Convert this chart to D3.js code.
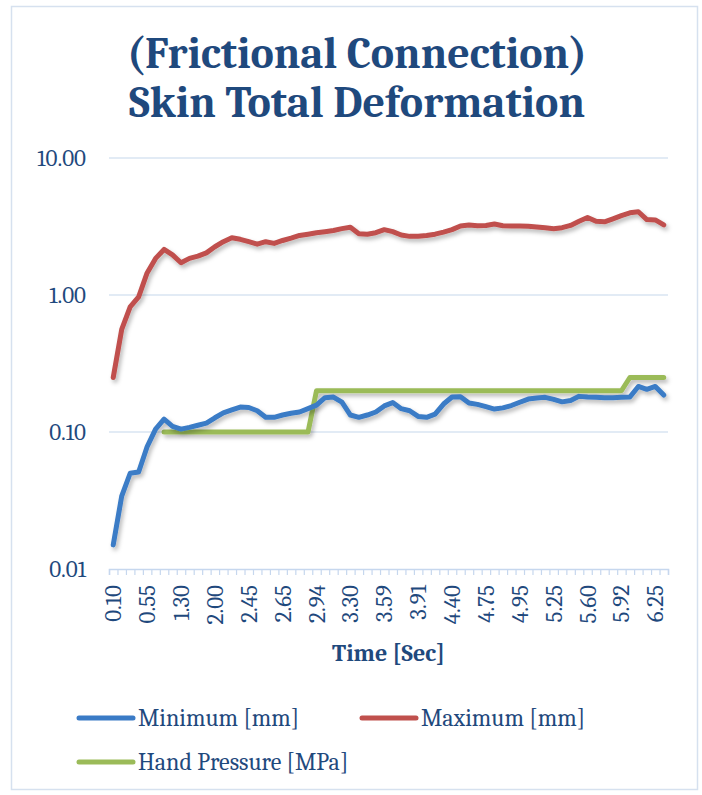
<!DOCTYPE html>
<html>
<head>
<meta charset="utf-8">
<script src="https://cdn.jsdelivr.net/npm/d3@7"></script>
<style>
  body { margin: 0; background: #fff; }
  text { font-family: Cambria, 'Liberation Serif', serif; fill: #1f497d; }
  .title { font-weight: bold; font-size: 44px; }
  .tick text { font-size: 23px; }
  .label { font-weight: bold; font-size: 24px; }
  .legend text { font-size: 24px; }
</style>
</head>
<body>
<div id="container"></div>
<script>
    // time steps (categories) - only every 4th one is labelled on the axis
    const times = [
      0.10, 0.20, 0.30, 0.43, 0.55, 0.70, 0.90, 1.10, 1.30, 1.48, 1.65, 1.83,
      2.00, 2.12, 2.23, 2.34, 2.45, 2.50, 2.55, 2.60, 2.65, 2.72, 2.80, 2.87,
      2.94, 3.03, 3.12, 3.21, 3.30, 3.37, 3.44, 3.52, 3.59, 3.67, 3.75, 3.83,
      3.91, 4.03, 4.15, 4.28, 4.40, 4.49, 4.58, 4.66, 4.75, 4.80, 4.85, 4.90,
      4.95, 5.03, 5.10, 5.18, 5.25, 5.34, 5.43, 5.51, 5.60, 5.68, 5.76, 5.84,
      5.92, 6.00, 6.09, 6.17, 6.25, 6.33
    ];

    const minimum = [
      0.015, 0.034, 0.050, 0.051, 0.078, 0.105, 0.124, 0.110, 0.105, 0.108, 0.112, 0.116,
      0.127, 0.138, 0.145, 0.152, 0.151, 0.143, 0.128, 0.128, 0.133, 0.137, 0.140, 0.148,
      0.157, 0.178, 0.180, 0.165, 0.133, 0.128, 0.133, 0.140, 0.155, 0.164, 0.148, 0.143,
      0.130, 0.128, 0.135, 0.160, 0.180, 0.181, 0.163, 0.159, 0.153, 0.147, 0.150, 0.156,
      0.165, 0.174, 0.177, 0.179, 0.173, 0.166, 0.170, 0.182, 0.180, 0.179, 0.178, 0.178,
      0.179, 0.180, 0.215, 0.205, 0.215, 0.186
    ];

    const maximum = [
      0.25, 0.56, 0.82, 0.97, 1.45, 1.85, 2.15, 1.96, 1.72, 1.85, 1.92, 2.03,
      2.25, 2.45, 2.62, 2.55, 2.45, 2.35, 2.45, 2.38, 2.50, 2.60, 2.72, 2.78,
      2.85, 2.90, 2.96, 3.05, 3.12, 2.80, 2.78, 2.85, 3.00, 2.90, 2.74, 2.68,
      2.68, 2.72, 2.78, 2.88, 3.00, 3.19, 3.24, 3.20, 3.22, 3.30, 3.20, 3.19,
      3.19, 3.17, 3.13, 3.10, 3.05, 3.10, 3.22, 3.45, 3.68, 3.45, 3.42, 3.60,
      3.80, 3.98, 4.05, 3.55, 3.53, 3.25
    ];

    const handPressure = [
      null, null, null, null, null, null, 0.1, 0.1, 0.1, 0.1, 0.1, 0.1,
      0.1, 0.1, 0.1, 0.1, 0.1, 0.1, 0.1, 0.1, 0.1, 0.1, 0.1, 0.1,
      0.2, 0.2, 0.2, 0.2, 0.2, 0.2, 0.2, 0.2, 0.2, 0.2, 0.2, 0.2,
      0.2, 0.2, 0.2, 0.2, 0.2, 0.2, 0.2, 0.2, 0.2, 0.2, 0.2, 0.2,
      0.2, 0.2, 0.2, 0.2, 0.2, 0.2, 0.2, 0.2, 0.2, 0.2, 0.2, 0.2,
      0.2, 0.25, 0.25, 0.25, 0.25, 0.25
    ];

    const yTicks = [0.01, 0.1, 1, 10];
    const seriesNames = ['Minimum [mm]', 'Maximum [mm]', 'Hand Pressure [MPa]'];
    const colors = ['#3a7bc6', '#c0504d', '#9bbb59'];

    const W = 702, H = 795;
    const plotLeft = 109, plotRight = 668, plotTop = 158, plotBottom = 569;

    const svg = d3.select('#container').append('svg')
      .attr('width', W)
      .attr('height', H);

    const defs = svg.append('defs');
    defs.append('filter')
      .attr('id', 'shadow')
      .attr('x', '-5%').attr('y', '-20%')
      .attr('width', '110%').attr('height', '140%')
      .append('feDropShadow')
      .attr('dx', 2).attr('dy', 3)
      .attr('stdDeviation', 2)
      .attr('flood-color', '#000')
      .attr('flood-opacity', 0.28);

    // chart border
    svg.append('rect')
      .attr('x', 11.5).attr('y', 6.5)
      .attr('width', 686).attr('height', 783)
      .attr('fill', 'none')
      .attr('stroke', '#d6e1ef')
      .attr('stroke-width', 1.5);

    const xScale = d3.scaleBand()
      .domain(d3.range(times.length))
      .range([plotLeft, plotRight])
      .padding(0);

    const xEdge = d3.scaleLinear()
      .domain([0, times.length])
      .range([plotLeft, plotRight]);

    const yScale = d3.scaleLog()
      .domain([0.01, 10])
      .range([plotBottom, plotTop]);

    const cx = (i) => xScale(i) + xScale.bandwidth() / 2;

    // horizontal grid lines
    svg.append('g')
      .selectAll('line')
      .data(yTicks.filter((v) => v > 0.01))
      .enter()
      .append('line')
      .attr('x1', plotLeft)
      .attr('x2', plotRight)
      .attr('y1', (d) => yScale(d))
      .attr('y2', (d) => yScale(d))
      .attr('stroke', '#d9e4f2')
      .attr('stroke-width', 1.5);

    // x axis line + category boundary ticks
    const xTicks = svg.append('g')
      .attr('transform', `translate(0,${plotBottom})`)
      .call(d3.axisBottom(xEdge)
        .tickValues(d3.range(times.length + 1))
        .tickSize(6)
        .tickSizeOuter(6)
        .tickFormat(''));
    xTicks.selectAll('line').attr('stroke', '#c6d7ee').attr('stroke-width', 1.2);
    xTicks.select('.domain').attr('stroke', '#c6d7ee').attr('stroke-width', 1.5);

    // x axis labels (every 4th category)
    const xLabels = svg.append('g')
      .attr('transform', `translate(0,${plotBottom})`)
      .call(d3.axisBottom(xScale)
        .tickValues(d3.range(0, times.length, 4))
        .tickSize(0)
        .tickFormat((i) => times[i].toFixed(2)));
    xLabels.select('.domain').remove();
    xLabels.selectAll('text')
      .attr('transform', 'rotate(-90)')
      .attr('x', -16)
      .attr('y', 0)
      .attr('dy', '0.35em')
      .style('text-anchor', 'end')
      .attr('fill', '#1f497d');

    // y axis labels
    const yAxis = svg.append('g')
      .attr('transform', `translate(${plotLeft},0)`)
      .call(d3.axisLeft(yScale)
        .tickValues(yTicks)
        .tickSize(0)
        .tickPadding(23)
        .tickFormat(d3.format('.2f')));
    yAxis.select('.domain').remove();
    yAxis.selectAll('text').attr('fill', '#1f497d');

    const line = d3.line()
      .defined((d) => d != null)
      .x((d, i) => cx(i))
      .y((d) => yScale(d));

    const series = [minimum, maximum, handPressure];

    // draw hand pressure first so minimum sits on top like the original
    [2, 1, 0].forEach((k) => {
      svg.append('path')
        .datum(series[k])
        .attr('fill', 'none')
        .attr('stroke', colors[k])
        .attr('stroke-width', 5)
        .attr('stroke-linejoin', 'round')
        .attr('stroke-linecap', 'round')
        .attr('filter', 'url(#shadow)')
        .attr('d', line);
    });

    svg.append('text')
      .attr('class', 'label')
      .attr('x', (plotLeft + plotRight) / 2)
      .attr('y', 661)
      .attr('text-anchor', 'middle')
      .text('Time [Sec]');

    const title = svg.append('text')
      .attr('class', 'title')
      .attr('text-anchor', 'middle');
    title.append('tspan')
      .attr('x', 357).attr('y', 68)
      .text('(Frictional Connection)');
    title.append('tspan')
      .attr('x', 357).attr('y', 117)
      .text('Skin Total Deformation');

    // legend
    const legendPos = [[79, 718], [362, 718], [79, 762]];
    const legend = svg.append('g').attr('class', 'legend');
    const items = legend.selectAll('g')
      .data(seriesNames)
      .enter()
      .append('g')
      .attr('transform', (d, i) => `translate(${legendPos[i][0]},${legendPos[i][1]})`);
    items.append('line')
      .attr('x1', 0).attr('x2', 54)
      .attr('stroke', (d, i) => colors[i])
      .attr('stroke-width', 5)
      .attr('stroke-linecap', 'round');
    items.append('text')
      .attr('x', 59)
      .attr('dy', '0.35em')
      .text((d) => d);
</script>
</body>
</html>
